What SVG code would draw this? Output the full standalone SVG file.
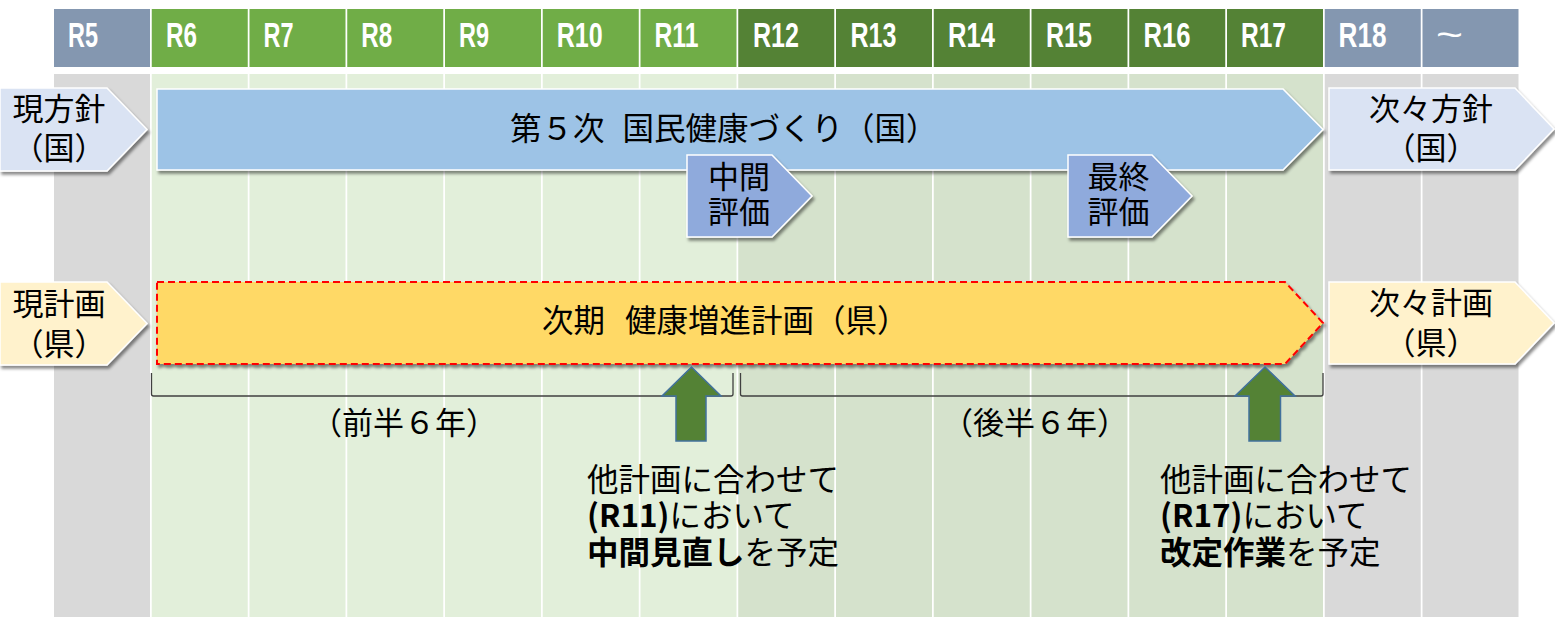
<svg xmlns="http://www.w3.org/2000/svg" width="1555" height="617" viewBox="0 0 1555 617">
<defs>
<style>
.jp{font-family:'Noto Sans CJK JP','Noto Sans',sans-serif;fill:#000;}
.lbl{font-size:31px;text-anchor:middle;}
.b{font-weight:bold;}
.hgray{fill:#8497b0;}
.hgreen{fill:#70ad47;}
.hdark{fill:#548235;}
.bgray{fill:#d9d9d9;}
.bgreen{fill:#e2efda;}
.bdark{fill:#d5e2cc;}
.sh{filter:url(#shadow);}
.br{fill:none;stroke:#404040;stroke-width:1.3;}
.up{fill:#548235;stroke:#41719c;stroke-width:1.5;}
</style>
<filter id="shadow" x="-5%" y="-20%" width="115%" height="150%">
<feDropShadow dx="2" dy="3" stdDeviation="1.6" flood-color="#000" flood-opacity="0.45"/>
</filter>
</defs>
<rect width="1555" height="617" fill="#fff"/>

<g id="columns">
<rect class="bgray" x="54" y="74" width="96" height="543"/>
<rect class="bgreen" x="151.75" y="74" width="96" height="543"/>
<rect class="bgreen" x="249.5" y="74" width="96" height="543"/>
<rect class="bgreen" x="347.25" y="74" width="96" height="543"/>
<rect class="bgreen" x="445" y="74" width="96" height="543"/>
<rect class="bgreen" x="542.75" y="74" width="96" height="543"/>
<rect class="bgreen" x="640.5" y="74" width="96" height="543"/>
<rect class="bdark" x="738.25" y="74" width="96" height="543"/>
<rect class="bdark" x="836" y="74" width="96" height="543"/>
<rect class="bdark" x="933.75" y="74" width="96" height="543"/>
<rect class="bdark" x="1031.5" y="74" width="96" height="543"/>
<rect class="bdark" x="1129.25" y="74" width="96" height="543"/>
<rect class="bdark" x="1227" y="74" width="96" height="543"/>
<rect class="bgray" x="1324.75" y="74" width="96" height="543"/>
<rect class="bgray" x="1422.5" y="74" width="96" height="543"/>
</g>

<g id="header">
<rect class="hgray" x="54" y="9" width="96" height="58"/>
<rect class="hgreen" x="151.75" y="9" width="96" height="58"/>
<rect class="hgreen" x="249.5" y="9" width="96" height="58"/>
<rect class="hgreen" x="347.25" y="9" width="96" height="58"/>
<rect class="hgreen" x="445" y="9" width="96" height="58"/>
<rect class="hgreen" x="542.75" y="9" width="96" height="58"/>
<rect class="hgreen" x="640.5" y="9" width="96" height="58"/>
<rect class="hdark" x="738.25" y="9" width="96" height="58"/>
<rect class="hdark" x="836" y="9" width="96" height="58"/>
<rect class="hdark" x="933.75" y="9" width="96" height="58"/>
<rect class="hdark" x="1031.5" y="9" width="96" height="58"/>
<rect class="hdark" x="1129.25" y="9" width="96" height="58"/>
<rect class="hdark" x="1227" y="9" width="96" height="58"/>
<rect class="hgray" x="1324.75" y="9" width="96" height="58"/>
<rect class="hgray" x="1422.5" y="9" width="96" height="58"/>
<g font-family="'Liberation Sans', 'DejaVu Sans', sans-serif" font-size="35" font-weight="bold" fill="#ffffff">
<text x="68" y="47" textLength="30" lengthAdjust="spacingAndGlyphs">R5</text>
<text x="166" y="47" textLength="31" lengthAdjust="spacingAndGlyphs">R6</text>
<text x="263.5" y="47" textLength="30" lengthAdjust="spacingAndGlyphs">R7</text>
<text x="361.25" y="47" textLength="31" lengthAdjust="spacingAndGlyphs">R8</text>
<text x="459" y="47" textLength="30" lengthAdjust="spacingAndGlyphs">R9</text>
<text x="556.75" y="47" textLength="46" lengthAdjust="spacingAndGlyphs">R10</text>
<text x="654.5" y="47" textLength="44" lengthAdjust="spacingAndGlyphs">R11</text>
<text x="753" y="47" textLength="46" lengthAdjust="spacingAndGlyphs">R12</text>
<text x="850.5" y="47" textLength="46" lengthAdjust="spacingAndGlyphs">R13</text>
<text x="948" y="47" textLength="47" lengthAdjust="spacingAndGlyphs">R14</text>
<text x="1046" y="47" textLength="46" lengthAdjust="spacingAndGlyphs">R15</text>
<text x="1143.5" y="47" textLength="47" lengthAdjust="spacingAndGlyphs">R16</text>
<text x="1241" y="47" textLength="45" lengthAdjust="spacingAndGlyphs">R17</text>
<text x="1338.5" y="47" textLength="48" lengthAdjust="spacingAndGlyphs">R18</text>
<text x="1436" y="47" textLength="27" lengthAdjust="spacingAndGlyphs" font-weight="normal">~</text>
</g>
</g>

<g id="current-policy">
<polygon class="sh" points="0,88 107,88 147,129.5 107,171 0,171" fill="#dae3f3" stroke="#fff" stroke-width="1.5"/>
<text class="jp lbl" x="59" y="120">現方針</text>
<text class="jp lbl" x="59" y="159">（国）</text>
</g>

<g id="national-plan">
<polygon class="sh" points="157,89 1283,89 1323,129.5 1283,170 157,170" fill="#9dc3e6" stroke="#fff" stroke-width="1.5"/>
<text class="jp" x="510" y="140" font-size="31.5">第５次<tspan dx="18">国民健康づくり（国）</tspan></text>
</g>

<g id="next-policy">
<polygon class="sh" points="1329,88 1515,88 1554,129 1515,170 1329,170" fill="#dae3f3" stroke="#fff" stroke-width="1.5"/>
<text class="jp lbl" x="1431" y="120">次々方針</text>
<text class="jp lbl" x="1431" y="159">（国）</text>
</g>

<g id="mid-evaluation">
<polygon class="sh" points="687,155 772,155 812,196 772,237 687,237" fill="#8faadc" stroke="#fff" stroke-width="1.5"/>
<text class="jp lbl" x="739" y="188">中間</text>
<text class="jp lbl" x="739" y="223">評価</text>
</g>

<g id="final-evaluation">
<polygon class="sh" points="1068,155 1152,155 1192,196 1152,237 1068,237" fill="#8faadc" stroke="#fff" stroke-width="1.5"/>
<text class="jp lbl" x="1118.5" y="188">最終</text>
<text class="jp lbl" x="1118.5" y="223">評価</text>
</g>

<g id="current-plan">
<polygon class="sh" points="0,282 107,282 147,323.5 107,365 0,365" fill="#fff2cc" stroke="#fff" stroke-width="1.5"/>
<text class="jp lbl" x="59" y="315">現計画</text>
<text class="jp lbl" x="59" y="355">（県）</text>
</g>

<g id="prefecture-plan">
<polygon class="sh" points="157,282 1285,282 1323,323 1285,364 157,364" fill="#ffd966" stroke="#ff0000" stroke-width="2" stroke-dasharray="7 4"/>
<text class="jp" x="542" y="332" font-size="31.5">次期<tspan dx="20">健康増進計画（県）</tspan></text>
</g>

<g id="next-plan">
<polygon class="sh" points="1329,282 1515,282 1554,323 1515,364 1329,364" fill="#fff2cc" stroke="#fff" stroke-width="1.5"/>
<text class="jp lbl" x="1431" y="314">次々計画</text>
<text class="jp lbl" x="1431" y="354">（県）</text>
</g>

<g id="connectors">
<path class="br" d="M151.5,373 V394 Q151.5,396 153.5,396 H731 Q733,396 733,394 V373"/>
<path class="br" d="M740.5,373 V394 Q740.5,396 742.5,396 H1321 Q1323,396 1323,394 V373"/>
</g>

<g id="first-half">
<text class="jp lbl" x="404" y="434">（前半６年）</text>
</g>
<g id="second-half">
<text class="jp lbl" x="1035" y="434">（後半６年）</text>
</g>

<g id="mid-review">
<polygon class="up" points="691.5,367 721,396 706,396 706,441 676,441 676,396 662,396"/>
<text class="jp" x="587" y="491" font-size="31.5">他計画に合わせて</text>
<text class="jp" x="587" y="527" font-size="31.5"><tspan class="b">(R11)</tspan>において</text>
<text class="jp" x="587" y="564" font-size="31.5"><tspan class="b">中間見直し</tspan>を予定</text>
</g>

<g id="revision">
<polygon class="up" points="1265,367 1295,396 1280.5,396 1280.5,441 1249,441 1249,396 1235,396"/>
<text class="jp" x="1160" y="491" font-size="31.5">他計画に合わせて</text>
<text class="jp" x="1160" y="527" font-size="31.5"><tspan class="b">(R17)</tspan>において</text>
<text class="jp" x="1160" y="564" font-size="31.5"><tspan class="b">改定作業</tspan>を予定</text>
</g>
</svg>
